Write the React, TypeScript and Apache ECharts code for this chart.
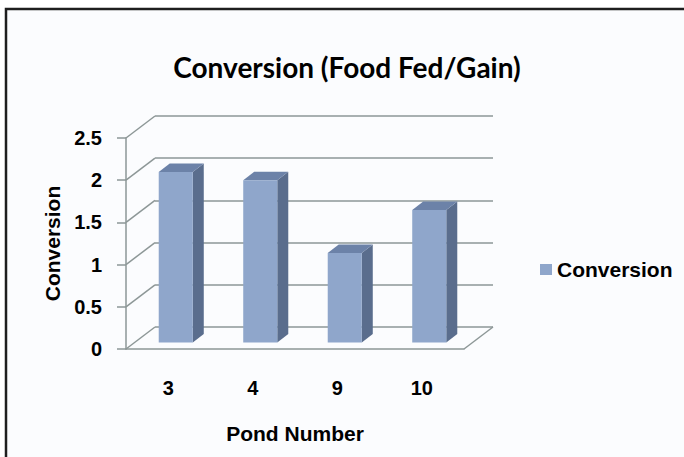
import React, { useEffect, useRef } from "react";
import * as echarts from "echarts";

const categories = ["3", "4", "9", "10"];
const conversion = [2.02, 1.92, 1.06, 1.57];
const yTicks = [0, 0.5, 1, 1.5, 2, 2.5];
const titleText = "Conversion (Food Fed/Gain)";
const seriesName = "Conversion";
const xName = "Pond Number";
const yName = "Conversion";

const DX = 29;
const DY = -22;
const LINE = "#8d9797";
const FONT = "'Liberation Sans', Arial, sans-serif";

export default function App() {
  const ref = useRef<HTMLDivElement>(null);
  useEffect(() => {
    if (!ref.current) return;
    const chart = echarts.init(ref.current, undefined, { renderer: "svg" });
    const labelStyle = { fontFamily: FONT, fontWeight: "bold" as const, fontSize: 20, color: "#000" };
    const nameStyle = { ...labelStyle, fontSize: 21 };
    chart.setOption({
      animation: false,
      backgroundColor: "#ffffff",
      graphic: [
        {
          type: "rect",
          z: -10,
          shape: { x: 6, y: 9, width: 720, height: 500 },
          style: { fill: "#fbfcfe", stroke: "#1e1e1e", lineWidth: 2.5 },
          silent: true,
        },
        {
          type: "text",
          x: 347,
          y: 67,
          style: {
            text: titleText,
            fontFamily: "Lato, 'Open Sans', sans-serif",
            fontWeight: "bold",
            fontSize: 28,
            fill: "#000",
            align: "center",
            verticalAlign: "middle",
          },
        },
      ],
      legend: {
        data: [seriesName],
        left: 535,
        top: 254,
        icon: "rect",
        itemWidth: 12,
        itemHeight: 11,
        textStyle: { ...nameStyle },
        selectedMode: false,
      },
      grid: [
        { left: 126, top: 138, width: 338, height: 211 },
        { left: 126 + DX, top: 138 + DY, width: 338, height: 211 },
      ],
      xAxis: [
        {
          gridIndex: 0,
          type: "category",
          data: categories,
          axisLine: { show: true, lineStyle: { color: LINE, width: 1.5 } },
          axisTick: { show: false },
          axisLabel: { ...labelStyle, margin: 29 },
          name: xName,
          nameLocation: "middle",
          nameGap: 74,
          nameTextStyle: { ...nameStyle },
        },
        { gridIndex: 1, type: "category", data: categories, show: false },
      ],
      yAxis: [
        {
          gridIndex: 0,
          type: "value",
          min: 0,
          max: 2.5,
          interval: 0.5,
          axisLine: { show: true, lineStyle: { color: LINE, width: 1.5 } },
          axisTick: { show: true, length: 9, lineStyle: { color: LINE, width: 1.5 } },
          splitLine: { show: false },
          axisLabel: { ...labelStyle, margin: 24 },
          name: yName,
          nameLocation: "middle",
          nameGap: 63,
          nameRotate: 90,
          nameTextStyle: { ...nameStyle },
        },
        {
          gridIndex: 1,
          type: "value",
          min: 0,
          max: 2.5,
          interval: 0.5,
          axisLine: { show: false },
          axisTick: { show: false },
          axisLabel: { show: false },
          splitLine: { show: true, lineStyle: { color: LINE, width: 1.5 } },
        },
      ],
      series: [
        {
          type: "custom",
          name: "walls",
          xAxisIndex: 0,
          yAxisIndex: 0,
          silent: true,
          z: 1,
          data: yTicks.map((v) => [0, v]),
          renderItem: (params: any, api: any) => {
            const v = api.value(1);
            const cs = params.coordSys;
            const y0 = api.coord([0, v])[1];
            const x0 = cs.x;
            const children: any[] = [
              {
                type: "line",
                shape: { x1: x0, y1: y0, x2: x0 + DX, y2: y0 + DY },
                style: { stroke: LINE, lineWidth: 1.5 },
              },
            ];
            if (v === 0) {
              children.push({
                type: "line",
                shape: { x1: x0 + cs.width, y1: y0, x2: x0 + cs.width + DX, y2: y0 + DY },
                style: { stroke: LINE, lineWidth: 1.5 },
              });
            }
            return { type: "group", children };
          },
        },
        {
          type: "custom",
          name: seriesName,
          xAxisIndex: 0,
          yAxisIndex: 0,
          z: 3,
          itemStyle: { color: "#8fa6cb" },
          data: conversion.map((v, i) => [i, v]),
          renderItem: (params: any, api: any) => {
            const i = api.value(0);
            const v = api.value(1);
            const base = api.coord([i, 0]);
            const top = api.coord([i, v]);
            const band = api.size([1, 0])[0];
            const w = band * 0.403;
            const sx = 11;
            const sy = -8.5;
            const x0 = base[0] - w / 2 + 7.5;
            const yb = base[1] - 6.6;
            const yt = top[1] - 6.6;
            return {
              type: "group",
              children: [
                {
                  type: "polygon",
                  shape: {
                    points: [
                      [x0 + w, yt],
                      [x0 + w + sx, yt + sy],
                      [x0 + w + sx, yb + sy],
                      [x0 + w, yb],
                    ],
                  },
                  style: { fill: "#5a6d8d" },
                },
                {
                  type: "polygon",
                  shape: {
                    points: [
                      [x0, yt],
                      [x0 + sx, yt + sy],
                      [x0 + w + sx, yt + sy],
                      [x0 + w, yt],
                    ],
                  },
                  style: { fill: "#6c82a8" },
                },
                {
                  type: "rect",
                  shape: { x: x0, y: yt, width: w, height: yb - yt },
                  style: { fill: "#8fa6cb" },
                },
              ],
            };
          },
        },
      ],
    });
    return () => chart.dispose();
  }, []);
  return (
    <div
      ref={ref}
      style={{ position: "fixed", left: 0, top: 0, width: 684, height: 457 }}
    />
  );
}
